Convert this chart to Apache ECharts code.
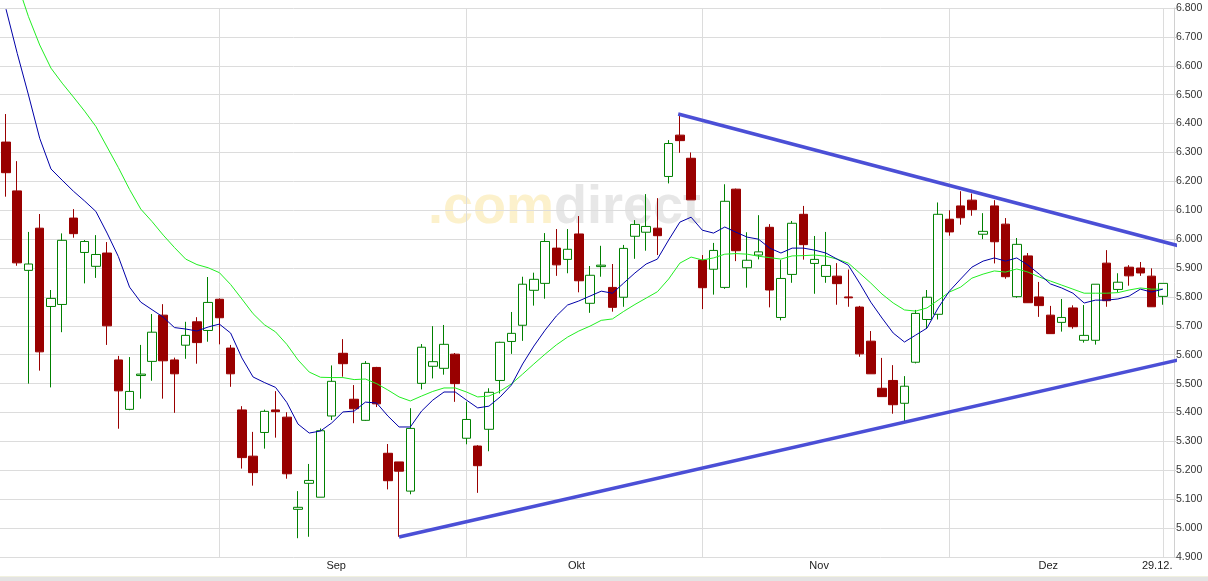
<!DOCTYPE html>
<html><head><meta charset="utf-8">
<script src="https://cdn.jsdelivr.net/npm/echarts@6/dist/echarts.min.js"></script>
<style>html,body{margin:0;padding:0;background:#fff}#c{width:1208px;height:581px}</style>
</head><body><div id="c"></div>
<script>
// ---- data ----
const opens = [6.336,6.167,5.892,6.038,5.767,5.774,6.073,5.954,5.906,5.952,
5.582,5.411,5.528,5.577,5.737,5.582,5.633,5.714,5.684,5.792,
5.623,5.409,5.249,5.331,5.409,5.384,5.065,5.155,5.107,5.388,
5.605,5.446,5.373,5.556,5.259,5.229,5.128,5.501,5.560,5.553,
5.602,5.311,5.284,5.342,5.511,5.646,5.702,5.823,5.847,5.969,
5.930,6.018,5.778,5.905,5.833,5.799,6.010,6.024,6.038,6.217,
6.360,6.280,5.928,5.896,5.833,6.173,5.901,5.945,6.041,5.729,
5.878,6.086,5.916,5.871,5.872,5.800,5.765,5.647,5.484,5.511,
5.432,5.574,5.722,5.740,6.069,6.115,6.135,6.017,6.115,6.052,
5.801,5.942,5.800,5.737,5.712,5.762,5.650,5.650,5.917,5.826,
5.903,5.900,5.872,5.802];
const closes = [6.230,5.918,5.914,5.610,5.795,5.996,6.019,5.992,5.947,5.700,
5.475,5.473,5.533,5.678,5.579,5.534,5.667,5.642,5.781,5.728,
5.534,5.244,5.192,5.404,5.403,5.188,5.072,5.165,5.337,5.508,
5.569,5.413,5.570,5.430,5.164,5.197,5.345,5.626,5.576,5.636,
5.500,5.376,5.216,5.470,5.643,5.674,5.844,5.861,5.992,5.911,
5.965,5.856,5.875,5.910,5.764,5.968,6.051,6.044,6.012,6.331,
6.341,6.136,5.832,5.961,6.131,5.960,5.927,5.956,5.824,5.864,
6.055,5.981,5.930,5.909,5.846,5.797,5.603,5.534,5.455,5.427,
5.491,5.743,5.799,6.086,6.025,6.074,6.102,6.027,5.991,5.870,
5.982,5.780,5.770,5.673,5.729,5.697,5.667,5.844,5.787,5.851,
5.873,5.883,5.766,5.847];
const lows = [6.147,5.908,5.500,5.545,5.487,5.678,6.005,5.847,5.866,5.634,
5.344,5.408,5.448,5.510,5.448,5.399,5.586,5.569,5.645,5.636,
5.489,5.206,5.147,5.275,5.313,5.171,4.965,4.970,5.107,5.374,
5.524,5.363,5.371,5.419,5.134,4.970,5.117,5.480,5.518,5.531,
5.437,5.290,5.122,5.266,5.466,5.603,5.648,5.770,5.794,5.873,
5.882,5.816,5.745,5.870,5.749,5.766,5.932,5.960,5.945,6.193,
6.299,6.136,5.758,5.808,5.828,5.924,5.832,5.930,5.764,5.719,
5.849,5.929,5.811,5.849,5.773,5.766,5.593,5.534,5.455,5.396,
5.368,5.570,5.689,5.722,6.012,6.050,6.081,6.000,5.916,5.863,
5.797,5.780,5.731,5.673,5.680,5.690,5.642,5.635,5.766,5.816,
5.839,5.873,5.766,5.773];
const highs = [6.433,6.270,6.025,6.087,5.824,6.020,6.104,5.997,6.014,5.990,
5.596,5.592,5.634,5.741,5.775,5.590,5.714,5.730,5.869,5.795,
5.634,5.422,5.333,5.410,5.474,5.401,5.128,5.222,5.345,5.563,
5.654,5.495,5.578,5.558,5.291,5.229,5.415,5.637,5.699,5.703,
5.606,5.437,5.287,5.484,5.645,5.748,5.870,5.884,6.021,6.035,
6.035,6.080,5.907,5.977,5.914,5.980,6.066,6.156,6.142,6.343,
6.433,6.300,5.945,5.987,6.190,6.175,6.024,6.083,6.052,5.928,
6.063,6.115,6.011,6.025,5.917,5.895,5.769,5.682,5.589,5.564,
5.526,5.755,5.824,6.127,6.100,6.166,6.158,6.090,6.135,6.073,
6.004,5.952,5.852,5.769,5.793,5.771,5.772,5.844,5.962,5.882,
5.910,5.921,5.899,5.847];
const maShort = [6.796,6.643,6.499,6.349,6.243,6.204,6.166,6.132,6.096,6.021,
5.940,5.834,5.782,5.756,5.730,5.694,5.689,5.682,5.696,5.706,
5.675,5.589,5.523,5.504,5.487,5.435,5.360,5.329,5.336,5.364,
5.402,5.405,5.436,5.433,5.388,5.350,5.350,5.405,5.443,5.471,
5.471,5.443,5.416,5.422,5.454,5.495,5.568,5.630,5.685,5.734,
5.772,5.786,5.803,5.820,5.813,5.848,5.883,5.914,5.931,5.997,
6.059,6.076,6.031,6.021,6.042,6.024,6.007,6.000,5.969,5.952,
5.969,5.969,5.962,5.952,5.931,5.910,5.848,5.782,5.727,5.675,
5.644,5.668,5.692,5.762,5.820,5.862,5.903,5.924,5.935,5.924,
5.935,5.910,5.879,5.845,5.831,5.813,5.779,5.789,5.789,5.793,
5.803,5.827,5.817,5.827];
const maLong = [7.004,6.886,6.770,6.672,6.592,6.540,6.492,6.443,6.390,6.319,
6.248,6.172,6.104,6.061,6.014,5.971,5.931,5.912,5.901,5.884,
5.843,5.793,5.742,5.704,5.679,5.636,5.582,5.540,5.522,5.521,
5.521,5.514,5.516,5.500,5.478,5.454,5.440,5.457,5.473,5.485,
5.485,5.471,5.454,5.457,5.474,5.499,5.533,5.568,5.602,5.634,
5.661,5.682,5.699,5.719,5.724,5.750,5.774,5.796,5.818,5.862,
5.917,5.938,5.928,5.935,5.948,5.950,5.948,5.941,5.936,5.931,
5.942,5.943,5.945,5.941,5.931,5.917,5.883,5.848,5.810,5.779,
5.755,5.751,5.762,5.789,5.817,5.834,5.865,5.879,5.890,5.886,
5.897,5.886,5.869,5.855,5.841,5.827,5.813,5.813,5.813,5.815,
5.824,5.831,5.827,5.827];
// trend lines: [candle index, price]
const upperTrend = [[59.85, 6.433], [105.6, 5.965]];
const lowerTrend = [[35.0, 4.969], [105.2, 5.589]];
// axis ticks
const yMin = 4.9, yMax = 6.8, yStep = 0.1;
const monthStartIdx = [19, 41, 62, 84, 103];
const monthLabelPos = [29.4, 50.8, 72.4, 92.8, 102.5];
const monthLabels = ['Sep', 'Okt', 'Nov', 'Dez', '29.12.'];

// ---- chart ----
const categories = opens.map((_, i) => String(i));
const ohlc = opens.map((o, i) => [o, closes[i], lows[i], highs[i]]);

const GA = {left: 0.4, top: 8, width: 1168, height: 549};
const GB = {left: 0, top: 8, width: 1174, height: 549};
const band = GA.width / opens.length;
const xMin = (GB.left - GA.left) / band - 0.5;
const xMax = (GB.left + GB.width - GA.left) / band - 0.5;

const FONT = '"Liberation Sans", Arial, sans-serif';
const gridColor = '#dcdcdc';

const chart = echarts.init(document.getElementById('c'), null, {renderer: 'canvas'});
chart.setOption({
  backgroundColor: '#ffffff',
  animation: false,
  grid: [
    Object.assign({containLabel: false}, GA),
    Object.assign({containLabel: false}, GB)
  ],
  xAxis: [
    {gridIndex: 0, type: 'category', data: categories, show: false, boundaryGap: true},
    {gridIndex: 1, type: 'value', min: xMin, max: xMax,
     axisLine: {show: false, onZero: false},
     axisTick: {show: false},
     splitLine: {show: false},
     axisLabel: {customValues: monthLabelPos, margin: 3, fontSize: 11, color: '#222', fontFamily: FONT,
       formatter: function (v) {
         let best = 0;
         for (let k = 1; k < monthLabelPos.length; k++) if (Math.abs(monthLabelPos[k] - v) < Math.abs(monthLabelPos[best] - v)) best = k;
         return monthLabels[best];
       }}
    }
  ],
  yAxis: [
    {gridIndex: 0, type: 'value', min: yMin, max: yMax, show: false},
    {gridIndex: 1, type: 'value', position: 'right', min: yMin, max: yMax, interval: yStep,
     axisLine: {show: true, onZero: false, lineStyle: {color: '#d0d0d0'}},
     axisTick: {show: true, length: 2, lineStyle: {color: '#d0d0d0'}},
     splitLine: {show: true, lineStyle: {color: gridColor, width: 1}},
     axisLabel: {margin: 2, fontSize: 10.5, color: '#333', fontFamily: FONT,
       formatter: v => v.toFixed(3)}
    }
  ],
  graphic: [
    {type: 'text', x: 428, y: 208, z: -10, silent: true,
     style: {text: '.com', fill: '#fcf1cc', font: 'bold 54px ' + FONT, verticalAlign: 'middle', align: 'left'}},
    {type: 'text', x: 554, y: 208, z: -10, silent: true,
     style: {text: 'direct', fill: '#e7e7e7', font: 'bold 54px ' + FONT, verticalAlign: 'middle', align: 'left'}},
    {type: 'rect', silent: true, shape: {x: 0, y: 576, width: 1208, height: 1}, style: {fill: '#f1f1df'}},
    {type: 'rect', silent: true, shape: {x: 0, y: 577, width: 1208, height: 4}, style: {fill: '#e3e3e3'}}
  ],
  series: [
    {type: 'candlestick', xAxisIndex: 0, yAxisIndex: 0, data: ohlc, barWidth: 9,
     itemStyle: {color: '#ffffff', color0: '#990000', borderColor: '#008000', borderColor0: '#990000', borderWidth: 1}},
    {type: 'line', xAxisIndex: 0, yAxisIndex: 0, data: maLong, symbol: 'none', clip: false,
     lineStyle: {color: '#22ee22', width: 1}},
    {type: 'line', xAxisIndex: 0, yAxisIndex: 0, data: maShort, symbol: 'none', clip: false,
     lineStyle: {color: '#0000a8', width: 1}},
    {type: 'line', xAxisIndex: 1, yAxisIndex: 1, data: upperTrend, symbol: 'none', clip: false, z: 4,
     lineStyle: {color: '#4b4fd6', width: 3.5},
     markLine: {silent: true, z: 1, symbol: ['none', 'none'], label: {show: false},
       lineStyle: {color: gridColor, type: 'solid', width: 1},
       data: monthStartIdx.map(v => ({xAxis: v}))}},
    {type: 'line', xAxisIndex: 1, yAxisIndex: 1, data: lowerTrend, symbol: 'none', clip: false, z: 4,
     lineStyle: {color: '#4b4fd6', width: 3.5}}
  ]
});
</script>
</body></html>
